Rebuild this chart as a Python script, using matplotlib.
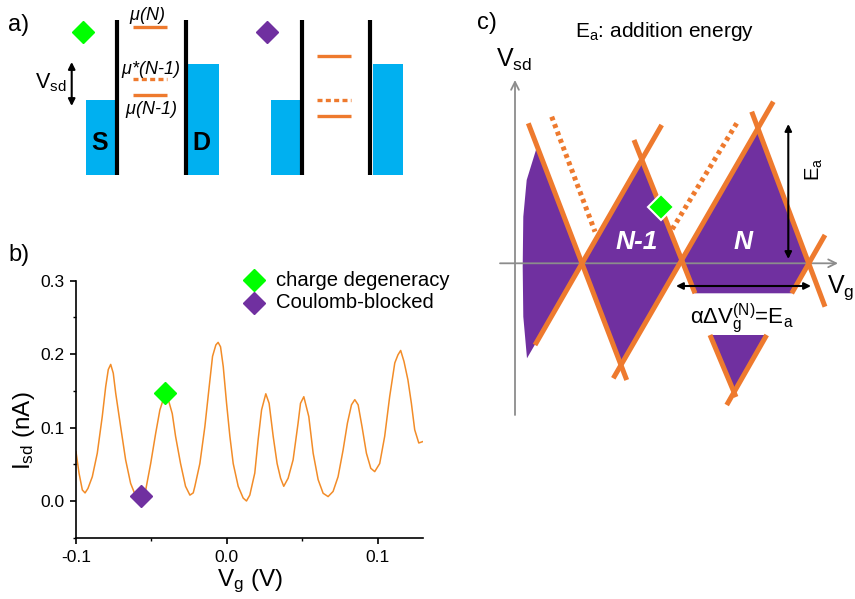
import matplotlib.pyplot as plt
from matplotlib.patches import Polygon, Rectangle
from matplotlib.ticker import MultipleLocator

plt.rcParams['font.family'] = ['Liberation Sans', 'DejaVu Sans']
plt.rcParams['mathtext.fontset'] = 'custom'
plt.rcParams['mathtext.rm'] = 'Liberation Sans'
plt.rcParams['mathtext.it'] = 'Liberation Sans:italic'
plt.rcParams['mathtext.bf'] = 'Liberation Sans:bold'
plt.rcParams['axes.unicode_minus'] = False

ORANGE = '#EE7A2E'
CURVE = '#F28C28'
BLUE = '#00B0F0'
PURPLE = '#7030A0'
GREEN = '#00FF00'
GRAY = '#8C8C8C'

# ---- panel b: Coulomb oscillations
vg = [-0.1, -0.098, -0.0958, -0.094, -0.0921, -0.0892, -0.0859, -0.0826, -0.0803,
      -0.0786, -0.077, -0.0753, -0.0737, -0.0704, -0.0671, -0.0638, -0.0605,
      -0.0572, -0.0538, -0.0505, -0.0472, -0.0444, -0.0422, -0.0405, -0.0384,
      -0.0362, -0.034, -0.0307, -0.0274, -0.0245, -0.0223, -0.0212, -0.0179,
      -0.0146, -0.0117, -0.0095, -0.0073, -0.0058, -0.0042, -0.0024, -0.0002,
      0.002, 0.0042, 0.0075, 0.0108, 0.013, 0.0152, 0.0185, 0.0207, 0.023,
      0.0258, 0.028, 0.0307, 0.0333, 0.0356, 0.0377, 0.0406, 0.0439, 0.0472,
      0.0488, 0.051, 0.0543, 0.0572, 0.0605, 0.0638, 0.0671, 0.0704, 0.0737,
      0.077, 0.0799, 0.0826, 0.0848, 0.087, 0.0896, 0.0925, 0.0954, 0.098,
      0.1013, 0.1046, 0.1079, 0.1113, 0.1134, 0.1152, 0.1174, 0.12, 0.1223,
      0.1245, 0.1272, 0.13]
isd = [0.067, 0.038, 0.015, 0.011, 0.017, 0.033, 0.065, 0.115, 0.156,
       0.179, 0.186, 0.174, 0.147, 0.101, 0.056, 0.024, 0.007,
       0.006, 0.015, 0.051, 0.092, 0.124, 0.138, 0.143, 0.135,
       0.119, 0.088, 0.051, 0.020, 0.008, 0.011, 0.020, 0.051,
       0.101, 0.156, 0.197, 0.2125, 0.216, 0.210, 0.183, 0.133,
       0.088, 0.051, 0.020, 0.004, 0.000, 0.008, 0.038, 0.083, 0.124,
       0.146, 0.133, 0.088, 0.051, 0.031, 0.020, 0.031, 0.056, 0.106,
       0.133, 0.142, 0.115, 0.065, 0.029, 0.0105, 0.006, 0.013, 0.033,
       0.069, 0.106, 0.131, 0.138, 0.131, 0.101, 0.065, 0.0445, 0.040,
       0.051, 0.088, 0.142, 0.188, 0.199, 0.205, 0.190, 0.165, 0.133,
       0.097, 0.079, 0.081]
degeneracy_pt = (-0.0411, 0.1475)
blocked_pt = (-0.0572, 0.007)
legend_labels = ['charge degeneracy', 'Coulomb-blocked']

# ---- panel a: energy-level schematic (pixel coordinates)
leads = [(86, 100, 29, 75), (188, 64, 31, 111), (271, 100, 29, 75), (372.7, 64, 30.6, 111)]
barriers_x = [117.3, 186, 301.7, 370]
levels_solid = [(132.7, 166.7, 27.3), (132.7, 166.7, 95), (317, 351, 55.7), (317, 351, 116)]
levels_dotted = [(132.7, 166.7, 79.3), (317, 351, 100)]

# ---- panel c: stability diagram (pixel coordinates)
edges = [((535, 345), (661.7, 125)), ((528.3, 123.3), (626.7, 380)),
         ((634, 140), (695, 293.3)), ((613.3, 378.3), (773.3, 101.7)),
         ((751.7, 111.7), (825, 306.7)), ((791.7, 293.3), (825, 235)),
         ((710, 335), (736, 397)), ((766.7, 335), (726.7, 405))]
dotted_edges = [((551.7, 116.7), (595, 231.7)), ((736.7, 123.3), (671.7, 230))]
blocked_regions = [
    [(537, 146.7), (582, 263.3), (527, 358.3), (523.3, 316.7), (522.7, 266.7),
     (523.3, 216.7), (526.7, 180)],
    [(582, 263.3), (642.3, 160), (681.7, 263.3), (620.3, 363.3)],
    [(681.7, 263.3), (756.7, 128.3), (808.3, 263.3), (791.7, 293.3), (695, 293.3)],
    [(710, 335), (766.7, 335), (733.3, 390)],
]

fig = plt.figure(figsize=(8.55, 5.99), dpi=100)

# panel b axes
ax = fig.add_axes([76 / 855, (599 - 537.7) / 599, (423 - 76) / 855, (537.7 - 280.7) / 599])
ax.plot(vg, isd, color=CURVE, lw=1.1)
ax.plot(*blocked_pt, marker='D', ms=11.5, color=PURPLE, ls='none', clip_on=False)
ax.plot(*degeneracy_pt, marker='D', ms=11.5, color=GREEN, ls='none', clip_on=False)
ax.set_xlim(-0.1, 0.13)
ax.set_ylim(-0.05, 0.3)
ax.spines[['top', 'right']].set_visible(False)
ax.spines[['left', 'bottom']].set_linewidth(1.2)
ax.set_xticks([-0.1, 0.0, 0.1], ['-0.1', '0.0', '0.1'])
ax.set_yticks([0.0, 0.1, 0.2, 0.3], ['0.0', '0.1', '0.2', '0.3'])
ax.xaxis.set_minor_locator(MultipleLocator(0.05))
ax.yaxis.set_minor_locator(MultipleLocator(0.05))
ax.tick_params(which='major', length=4.5, width=1.2, labelsize=12.5, pad=4)
ax.tick_params(which='minor', length=2.5, width=1.0)
ax.set_xlabel(r'V$_{\rm g}$ (V)', fontsize=17.5, va='center')
ax.xaxis.set_label_coords(0.501, -0.168)
ax.set_ylabel(r'I$_{\rm sd}$ (nA)', fontsize=17.5, va='center')
ax.yaxis.set_label_coords(-0.15, 0.416)

# overlay in pixel coordinates for schematics and legend
ov = fig.add_axes([0, 0, 1, 1])
ov.set_xlim(0, 855)
ov.set_ylim(599, 0)
ov.axis('off')

# legend of panel b
for y, c, lab in zip([280, 302.7], [GREEN, PURPLE], legend_labels):
    ov.plot(254.3, y, marker='D', ms=11.5, color=c, ls='none')
    ov.text(276, y, lab, fontsize=14.6, va='center')

# panel labels
ov.text(18.5, 25, 'a)', fontsize=17, ha='center', va='center')
ov.text(18.5, 255, 'b)', fontsize=17, ha='center', va='center')
ov.text(486.5, 23, 'c)', fontsize=17, ha='center', va='center')

# panel a
for x, y, w, h in leads:
    ov.add_patch(Rectangle((x, y), w, h, color=BLUE, lw=0))
for x in barriers_x:
    ov.plot([x, x], [20, 175], color='k', lw=3, solid_capstyle='butt')
for x0, x1, y in levels_solid:
    ov.plot([x0, x1], [y, y], color=ORANGE, lw=2.4, solid_capstyle='butt')
for x0, x1, y in levels_dotted:
    ov.plot([x0, x1], [y, y], color=ORANGE, lw=2.4, ls=(0, (1.5, 1)))
ov.plot(82.7, 31.7, marker='D', ms=11, color=GREEN, ls='none')
ov.plot(266.7, 31.7, marker='D', ms=11, color=PURPLE, ls='none')
ov.text(146.7, 15, r'$\mu$(N)', fontsize=13, style='italic', ha='center', va='center')
ov.text(150.3, 69, r'$\mu$*(N-1)', fontsize=13, style='italic', ha='center', va='center')
ov.text(151, 110, r'$\mu$(N-1)', fontsize=13, style='italic', ha='center', va='center')
ov.annotate('', xy=(71.7, 62), xytext=(71.7, 106),
            arrowprops=dict(arrowstyle='<|-|>', color='k', lw=1.5, mutation_scale=10,
                            shrinkA=0, shrinkB=0))
ov.text(51, 83, r'V$_{\rm sd}$', fontsize=15.5, ha='center', va='center')
ov.text(100, 143, 'S', fontsize=18, fontweight='heavy', ha='center', va='center')
ov.text(201.7, 143, 'D', fontsize=18, fontweight='heavy', ha='center', va='center')

# panel c
ov.annotate('', xy=(515, 80), xytext=(515, 415),
            arrowprops=dict(arrowstyle='->', color=GRAY, lw=1.3, mutation_scale=14,
                            shrinkA=0, shrinkB=0))
ov.annotate('', xy=(838, 263.3), xytext=(500, 263.3),
            arrowprops=dict(arrowstyle='->', color=GRAY, lw=1.3, mutation_scale=14,
                            shrinkA=0, shrinkB=0))
for poly in blocked_regions:
    ov.add_patch(Polygon(poly, closed=True, color=PURPLE, lw=0, zorder=2))
for (x0, y0), (x1, y1) in edges:
    ov.plot([x0, x1], [y0, y1], color=ORANGE, lw=3.6, solid_capstyle='butt', zorder=3)
for (x0, y0), (x1, y1) in dotted_edges:
    ov.plot([x0, x1], [y0, y1], color=ORANGE, lw=3.6, ls=(0, (0.8, 0.8)), zorder=3)
ov.plot(661, 206.7, marker='D', ms=13.5, color=GREEN, mec='white', mew=1.5, ls='none', zorder=4)
ov.text(636.5, 241.7, 'N-1', fontsize=19, color='white', fontweight='bold', style='italic',
        ha='center', va='center', zorder=4)
ov.text(743.3, 241.7, 'N', fontsize=19, color='white', fontweight='bold', style='italic',
        ha='center', va='center', zorder=4)
ov.annotate('', xy=(788.3, 124), xytext=(788.3, 259),
            arrowprops=dict(arrowstyle='<|-|>', color='k', lw=1.5, mutation_scale=10,
                            shrinkA=0, shrinkB=0), zorder=5)
ov.text(814, 169, r'E$_{\rm a}$', fontsize=14.5, rotation=90, ha='center', va='center')
ov.annotate('', xy=(676, 286), xytext=(811, 286),
            arrowprops=dict(arrowstyle='<|-|>', color='k', lw=1.5, mutation_scale=10,
                            shrinkA=0, shrinkB=0), zorder=5)
ov.text(742, 318, r'αΔV$_{\rm g}^{\rm (N)}$=E$_{\rm a}$', fontsize=16, ha='center', va='center')
ov.text(665, 31.7, r'E$_{\rm a}$: addition energy', fontsize=15, ha='center', va='center')
ov.text(514, 60, r'V$_{\rm sd}$', fontsize=18, ha='center', va='center')
ov.text(841, 288, r'V$_{\rm g}$', fontsize=18, ha='center', va='center')

fig.savefig('out.png', dpi=100)
